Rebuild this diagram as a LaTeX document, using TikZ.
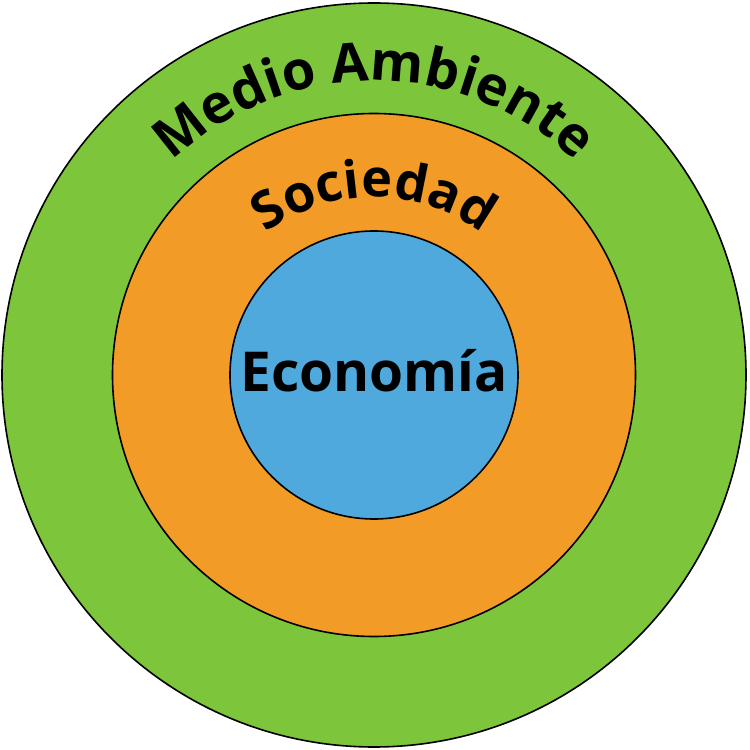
\documentclass[tikz,border=0pt]{standalone}
\usepackage{fontspec}
\setmainfont{Open Sans}
\newfontfamily\obold{Open Sans Bold}
\usetikzlibrary{decorations.text}
\definecolor{envgreen}{HTML}{7DC53B}
\definecolor{socorange}{HTML}{F29B26}
\definecolor{ecoblue}{HTML}{50A9DC}
\begin{document}
\begin{tikzpicture}[x=1pt,y=1pt,
  ring/.style={draw=black,line width=1.6pt},
  arctext/.style={decorate,decoration={text along path,text align=center,raise=0pt}}]
\useasboundingbox (0,0) rectangle (750,750);
\coordinate (c) at (374,375);
\node[ring,fill=envgreen,circle,minimum size=744pt,inner sep=0pt] (env) at (c) {};
\node[ring,fill=socorange,circle,minimum size=523pt,inner sep=0pt] (soc) at (c) {};
\node[ring,fill=ecoblue,circle,minimum size=288pt,inner sep=0pt] (eco) at (c) {};
\node[anchor=base,inner sep=0pt] (ecotext) at (374,358) {\obold\fontsize{55}{55}\selectfont Economía};
\path[arctext,decoration={text={|\obold\fontsize{54}{54}\selectfont|Medio Ambiente}}]
  (c) ++(140:294) arc[start angle=140,end angle=40,radius=294];
\path[arctext,decoration={text={|\obold\fontsize{52}{52}\selectfont|Sociedad}}]
  (c) ++(140:178) arc[start angle=140,end angle=40,radius=178];
\end{tikzpicture}
\end{document}
